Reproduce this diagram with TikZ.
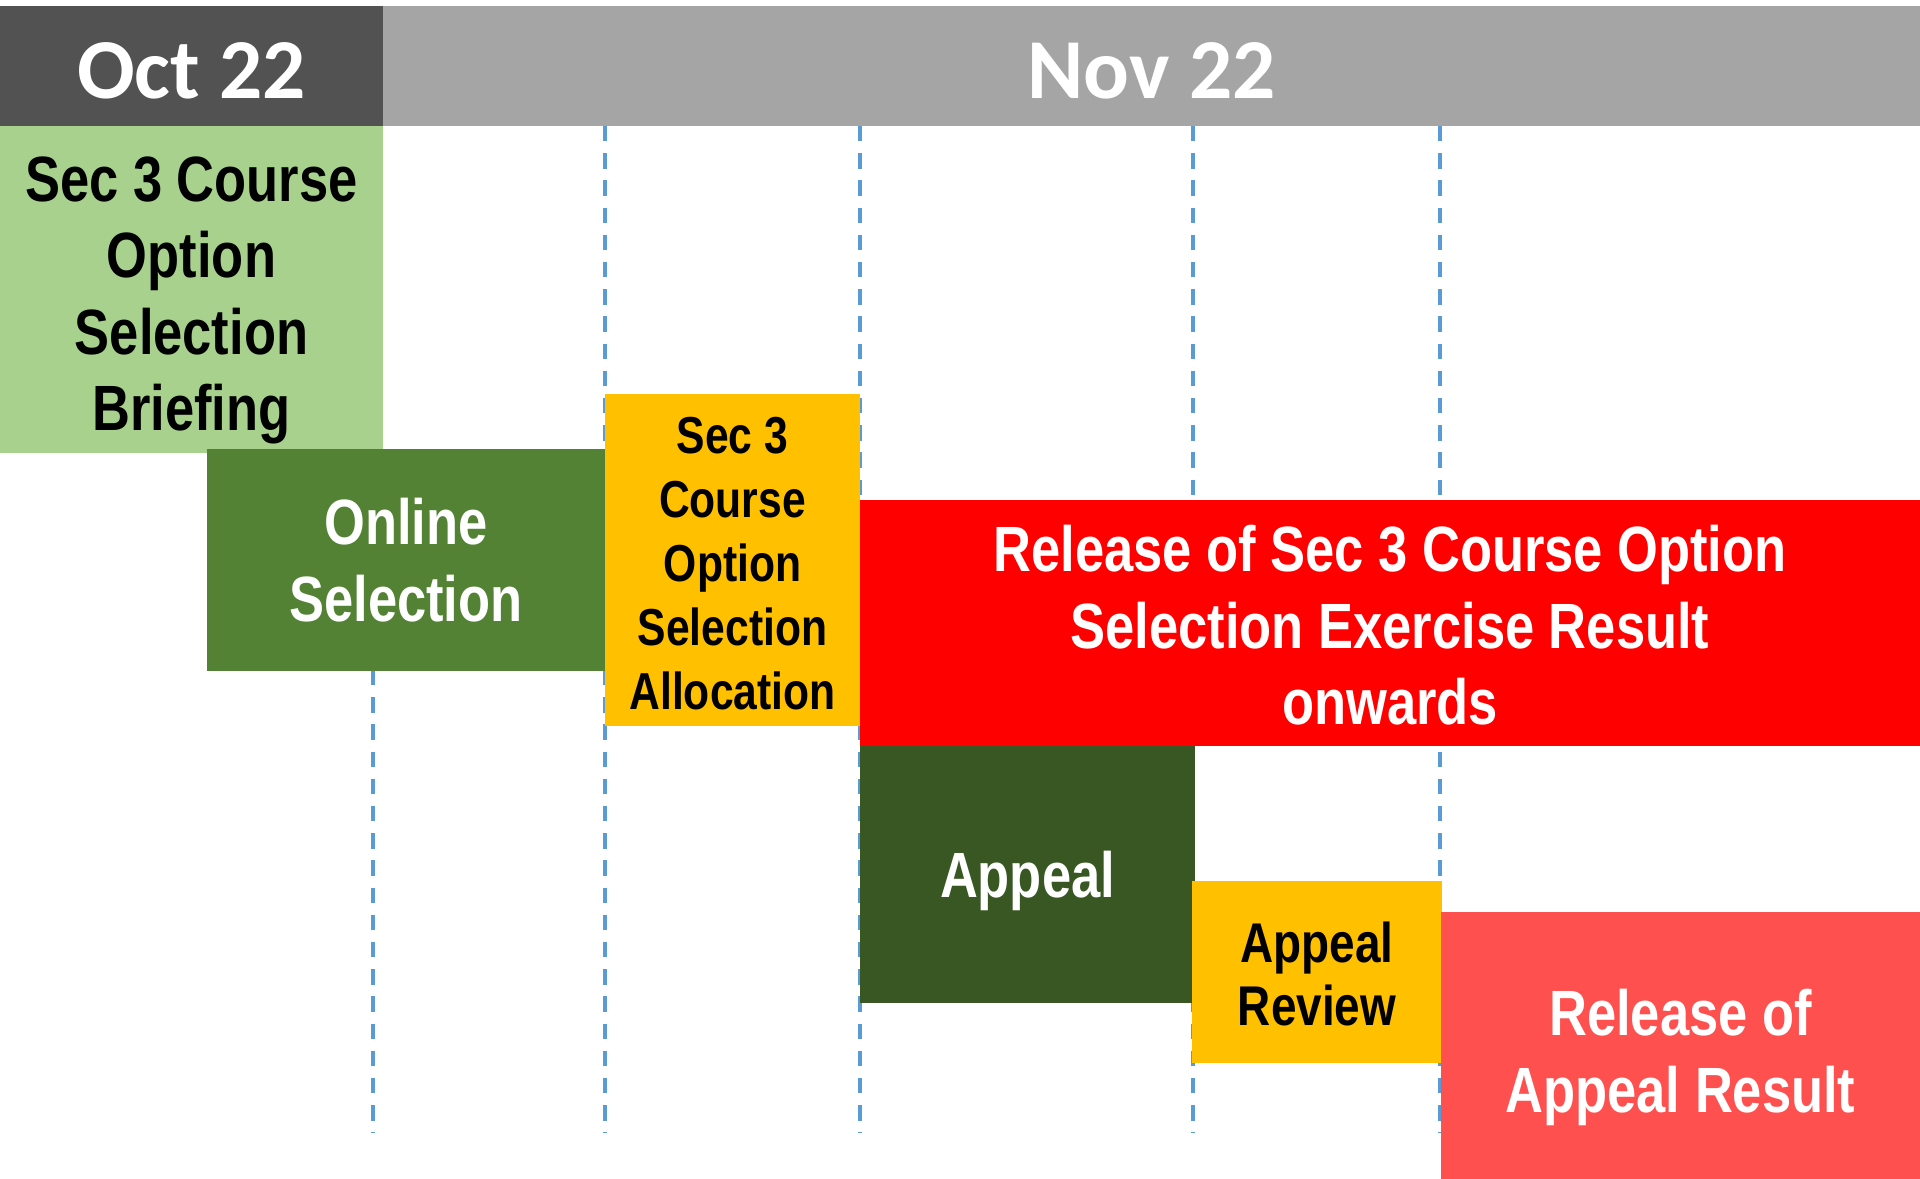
\documentclass[tikz,border=0pt]{standalone}
\usepackage{fontspec}
\usetikzlibrary{fit}
\newfontfamily\narrowfont[FakeStretch=0.82]{Liberation Sans}
\newfontfamily\hdrfont{Carlito}
\definecolor{octgrey}{HTML}{525252}
\definecolor{novgrey}{HTML}{A5A5A5}
\definecolor{lightgreen}{HTML}{A9D18E}
\definecolor{midgreen}{HTML}{548235}
\definecolor{gold}{HTML}{FFC000}
\definecolor{brightred}{HTML}{FF0000}
\definecolor{darkgreen}{HTML}{385723}
\definecolor{salmon}{HTML}{FF5050}
\definecolor{dashblue}{HTML}{5B9BD5}
\tikzset{
  box/.style={inner sep=0pt, outer sep=0pt, draw=none},
  lbl/.style={inner sep=0pt, outer sep=0pt, align=center},
  hdr/.style={lbl, text=white, font=\hdrfont\bfseries\fontsize{32}{38}\selectfont},
  txt/.style={lbl, font=\narrowfont\bfseries\fontsize{24}{28.7}\selectfont},
  smalltxt/.style={lbl, font=\narrowfont\bfseries\fontsize{19.5}{24}\selectfont},
  guide/.style={draw=dashblue, line width=1.6pt, dash pattern=on 5.8pt off 4.4pt}
}
\begin{document}
\begin{tikzpicture}[x=0.375pt,y=-0.375pt]
\useasboundingbox (0,0) rectangle (1920,1179);
% guide line anchors
\coordinate (g1t) at (373,126);  \coordinate (g1b) at (373,1133);
\coordinate (g2t) at (605,126);  \coordinate (g2b) at (605,1133);
\coordinate (g3t) at (860,126);  \coordinate (g3b) at (860,1133);
\coordinate (g4t) at (1193,126); \coordinate (g4b) at (1193,1133);
\coordinate (g5t) at (1440,126); \coordinate (g5b) at (1440,1133);
\draw[guide] (g1t) -- (g1b);
\draw[guide] (g2t) -- (g2b);
\draw[guide] (g3t) -- (g3b);
\draw[guide] (g4t) -- (g4b);
\draw[guide] (g5t) -- (g5b);
% header
\node[box, fill=octgrey, fit={(0,6) (383,126)}] (oct) {};
\node[box, fill=novgrey, fit={(383,6) (1920,126)}] (nov) {};
\node[hdr, yshift=-1.9pt] (octlbl) at (oct.center) {Oct 22};
\node[hdr, yshift=-1.9pt] (novlbl) at (nov.center) {Nov 22};
% boxes
\node[box, fill=lightgreen, fit={(0,126) (383,453)}] (brief) {};
\node[box, fill=midgreen, fit={(207,449) (605,671)}] (online) {};
\node[box, fill=gold, fit={(605,394) (860,726)}] (alloc) {};
\node[box, fill=brightred, fit={(860,500) (1920,746)}] (release) {};
\node[box, fill=darkgreen, fit={(860,746) (1195,1003)}] (appeal) {};
\node[box, fill=gold, fit={(1192,881) (1442,1063)}] (review) {};
\node[box, fill=salmon, fit={(1441,912) (1920,1179)}] (result) {};
% labels
\node[txt, text=black, yshift=-4.1pt] (brieflbl) at (brief.center) {Sec 3 Course\\Option\\Selection\\Briefing};
\node[txt, text=white] (onlinelbl) at (online.center) {Online\\Selection};
\node[smalltxt, text=black, yshift=-1.5pt] (alloclbl) at (alloc.center) {Sec 3\\Course\\Option\\Selection\\Allocation};
\node[txt, text=white, yshift=-0.8pt] (releaselbl) at (release.center) {Release of Sec 3 Course Option\\Selection Exercise Result\\onwards};
\node[txt, text=white, yshift=-2.6pt] (appeallbl) at (appeal.center) {Appeal};
\node[lbl, font=\narrowfont\bfseries\fontsize{21}{23.6}\selectfont, text=black, yshift=-0.8pt] (reviewlbl) at (review.center) {Appeal\\Review};
\node[txt, text=white, yshift=-4.5pt] (resultlbl) at (result.center) {Release of\\Appeal Result};
\end{tikzpicture}
\end{document}
